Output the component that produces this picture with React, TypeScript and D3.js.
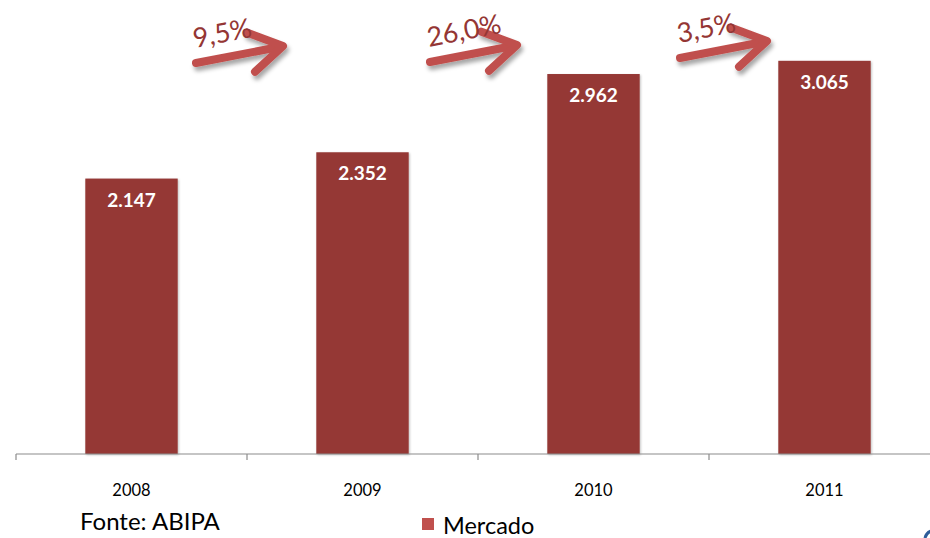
import React from "react";
import * as d3 from "d3";

const years = ["2008", "2009", "2010", "2011"];
const mercado = [2147, 2352, 2962, 3065];
const valueLabels = ["2.147", "2.352", "2.962", "3.065"];
const growthLabels = ["9,5%", "26,0%", "3,5%"];

const W = 930;
const H = 538;
const baseY = 454;
const font = "Lato, 'Noto Sans', sans-serif";

// arrow placement relative to the start of the next band
const arrowDx = [-51, -48, -29];
const arrowY = [63, 62, 58];

export default function App() {
  const x = d3.scaleBand().domain(years).range([16, 940]).paddingInner(0).paddingOuter(0);
  const y = d3.scaleLinear().domain([0, 3500]).range([baseY, 5]);
  const barW = x.bandwidth() * 0.4;

  return (
    <svg width={W} height={H} style={{ position: "absolute", left: 0, top: 0, background: "#fff" }}>
      <defs>
        <filter id="shadow" x="-20%" y="-40%" width="150%" height="200%">
          <feDropShadow dx="2" dy="4" stdDeviation="2" floodColor="#000" floodOpacity="0.35" />
        </filter>
        <filter id="barShadow" x="-10%" y="-5%" width="125%" height="115%">
          <feDropShadow dx="1" dy="1" stdDeviation="1" floodColor="#000" floodOpacity="0.25" />
        </filter>
      </defs>

      {years.map((yr, i) => {
        const bx = x(yr)! + (x.bandwidth() - barW) / 2;
        const cx = x(yr)! + x.bandwidth() / 2;
        return (
          <g key={yr}>
            <rect
              x={bx}
              y={y(mercado[i])}
              width={barW}
              height={baseY - y(mercado[i])}
              fill="#953735"
              filter="url(#barShadow)"
            />
            <text
              x={cx}
              y={y(mercado[i]) + 28}
              textAnchor="middle"
              fill="#fff"
              fontFamily={font}
              fontWeight="bold"
              fontSize={19}
            >
              {valueLabels[i]}
            </text>
            <text x={cx} y={496} textAnchor="middle" fill="#000" fontFamily={font} fontSize={16.5}>
              {yr}
            </text>
          </g>
        );
      })}

      <line x1={16} x2={W} y1={baseY} y2={baseY} stroke="#8c8c8c" strokeWidth={1.2} />
      {years.map((yr) => (
        <line key={yr} x1={x(yr)!} x2={x(yr)!} y1={baseY} y2={baseY + 6} stroke="#8c8c8c" strokeWidth={1.2} />
      ))}

      {growthLabels.map((g, i) => {
        const sx = x(years[i + 1])! + arrowDx[i];
        const sy = arrowY[i];
        const tx = sx + 87;
        const ty = sy - 17;
        const ang = Math.atan2(ty - sy, tx - sx);
        const head = 38;
        const spread = 0.55;
        const h1 = [tx - head * Math.cos(ang - spread), ty - head * Math.sin(ang - spread)];
        const h2 = [tx - head * Math.cos(ang + spread), ty - head * Math.sin(ang + spread)];
        return (
          <g key={g}>
            <g filter="url(#shadow)" stroke="#c0504d" strokeLinecap="round" strokeLinejoin="round" fill="none">
              <line x1={sx} y1={sy} x2={tx - 4} y2={ty + 1} strokeWidth={8} />
              <polyline points={`${h1[0]},${h1[1]} ${tx},${ty} ${h2[0]},${h2[1]}`} strokeWidth={8} />
            </g>
            <text
              x={sx - 1}
              y={sy - 15}
              transform={`rotate(-11 ${sx - 1} ${sy - 15})`}
              fill="#943634"
              fontFamily={font}
              fontSize={27}
            >
              {g}
            </text>
          </g>
        );
      })}

      <text x={80} y={530} fontFamily={font} fontSize={24} fill="#000">
        Fonte: ABIPA
      </text>
      <rect x={422} y={518} width={12} height={12} fill="#c0504d" />
      <text x={443} y={534} fontFamily={font} fontSize={23.5} fill="#000">
        Mercado
      </text>
      <path d="M 925 538 Q 926 533 931 531" stroke="#2e5d9a" strokeWidth={3} fill="none" />
    </svg>
  );
}
